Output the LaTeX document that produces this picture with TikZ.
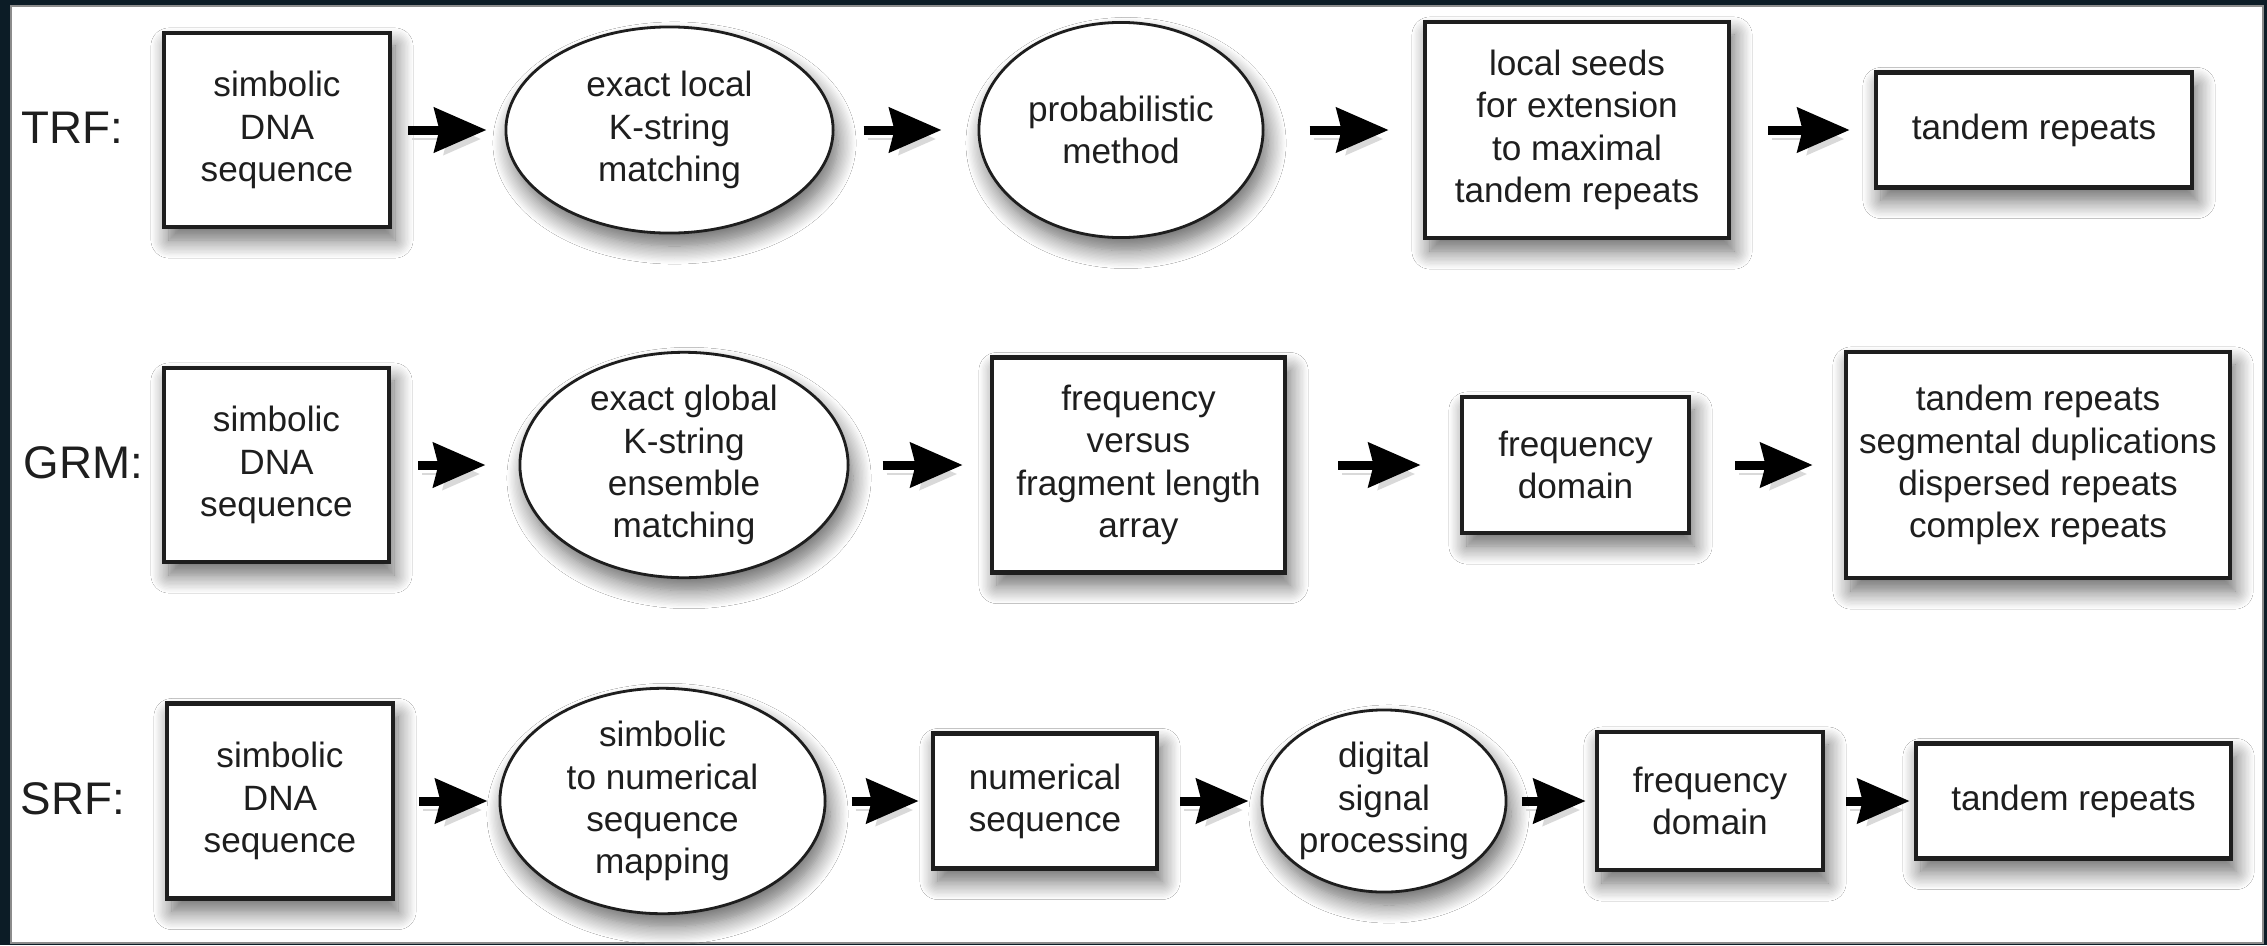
\documentclass[tikz,border=0pt]{standalone}
\usepackage{fontspec}
\setmainfont{Liberation Sans}
\usetikzlibrary{arrows.meta,shapes.geometric,shadows.blur}
\definecolor{frame}{RGB}{12,28,38}
\definecolor{ink}{RGB}{30,30,30}
\tikzset{
 shad/.style={blur shadow={shadow xshift=0.05cm, shadow yshift=-0.13cm, shadow blur radius=0.18cm, shadow blur steps=14, shadow opacity=60}},
 txt/.style={font=\fontsize{10}{12}\selectfont, text=ink, align=center, inner sep=0pt},
 boxn/.style={txt, shad, draw=ink, fill=white, line width=0.045cm, rectangle},
 elln/.style={txt, shad, draw=ink, fill=white, line width=0.028cm, ellipse},
 lbl/.style={font=\fontsize{13}{15}\selectfont, text=ink, anchor=west, inner sep=0pt},
 arr/.style={-{Stealth[length=0.52cm,width=0.44cm,inset=0.05cm]}, line width=0.09cm, draw=black,
   preaction={draw=black!15, transform canvas={shift={(0.04cm,-0.09cm)}}}},
}
\begin{document}
\begin{tikzpicture}[x=0.01cm,y=-0.01cm]
\useasboundingbox (0,0) rectangle (2267,945);
\fill[frame] (0,0) rectangle (2267,945);
\fill[white] (11,6) rectangle (2263,943);
\draw[black!45, line width=0.5pt] (11,6) rectangle (2263,943);

% Row 1: TRF
\node[lbl] (lt) at (21,128) {TRF:};
\node[boxn, minimum width=2.26cm, minimum height=1.94cm] (t1) at (277,130) {simbolic\\DNA\\sequence};
\node[elln, minimum width=3.27cm, minimum height=2.06cm] (t2) at (669.5,130) {exact local\\K-string\\matching};
\node[elln, minimum width=2.84cm, minimum height=2.15cm] (t3) at (1121,130) {probabilistic\\method};
\node[boxn, minimum width=3.04cm, minimum height=2.16cm] (t4) at (1577,130) {local seeds\\for extension\\to maximal\\tandem repeats};
\node[boxn, minimum width=3.16cm, minimum height=1.15cm] (t5) at (2034,130) {tandem repeats};

\draw[arr, shorten <=0.16cm, shorten >=0.18cm] (t1) -- (t2);
\draw[arr, shorten <=0.29cm, shorten >=0.36cm] (t2) -- (t3);
\draw[arr, shorten <=0.45cm, shorten >=0.34cm] (t3) -- (t4);
\draw[arr, shorten <=0.37cm, shorten >=0.24cm] (t4) -- (t5);

% Row 2: GRM
\node[lbl] (lg) at (23,463) {GRM:};
\node[boxn, minimum width=2.25cm, minimum height=1.94cm] (g1) at (276.5,465) {simbolic\\DNA\\sequence};
\node[elln, minimum width=3.28cm, minimum height=2.10cm] (g2) at (684,465) {exact global\\K-string\\ensemble\\matching};
\node[boxn, minimum width=2.93cm, minimum height=2.15cm] (g3) at (1138.5,465) {frequency\\versus\\fragment length\\array};
\node[boxn, minimum width=2.27cm, minimum height=1.36cm] (g4) at (1575.5,465) {frequency\\domain};
\node[boxn, minimum width=3.84cm, minimum height=2.26cm] (g5) at (2038,465) {tandem repeats\\segmental duplications\\dispersed repeats\\complex repeats};

\draw[arr, shorten <=0.27cm, shorten >=0.33cm] (g1) -- (g2);
\draw[arr, shorten <=0.33cm, shorten >=0.27cm] (g2) -- (g3);
\draw[arr, shorten <=0.51cm, shorten >=0.39cm] (g3) -- (g4);
\draw[arr, shorten <=0.44cm, shorten >=0.31cm] (g4) -- (g5);

% Row 3: SRF
\node[lbl] (ls) at (20,799) {SRF:};
\node[boxn, minimum width=2.26cm, minimum height=1.95cm] (s1) at (280,801) {simbolic\\DNA\\sequence};
\node[elln, minimum width=3.25cm, minimum height=2.15cm] (s2) at (662.5,801) {simbolic\\to numerical\\sequence\\mapping};
\node[boxn, minimum width=2.24cm, minimum height=1.35cm] (s3) at (1045,801) {numerical\\sequence};
\node[elln, minimum width=2.44cm, minimum height=1.82cm] (s4) at (1384,801) {digital\\signal\\processing};
\node[boxn, minimum width=2.26cm, minimum height=1.38cm] (s5) at (1710,801) {frequency\\domain};
\node[boxn, minimum width=3.15cm, minimum height=1.15cm] (s6) at (2073.5,801) {tandem repeats};

\draw[arr, shorten <=0.24cm, shorten >=0.11cm] (s1) -- (s2);
\draw[arr, shorten <=0.25cm, shorten >=0.12cm] (s2) -- (s3);
\draw[arr, shorten <=0.21cm, shorten >=0.12cm] (s3) -- (s4);
\draw[arr, shorten <=0.14cm, shorten >=0.09cm] (s4) -- (s5);
\draw[arr, shorten <=0.21cm, shorten >=0.04cm] (s5) -- (s6);
\end{tikzpicture}
\end{document}
